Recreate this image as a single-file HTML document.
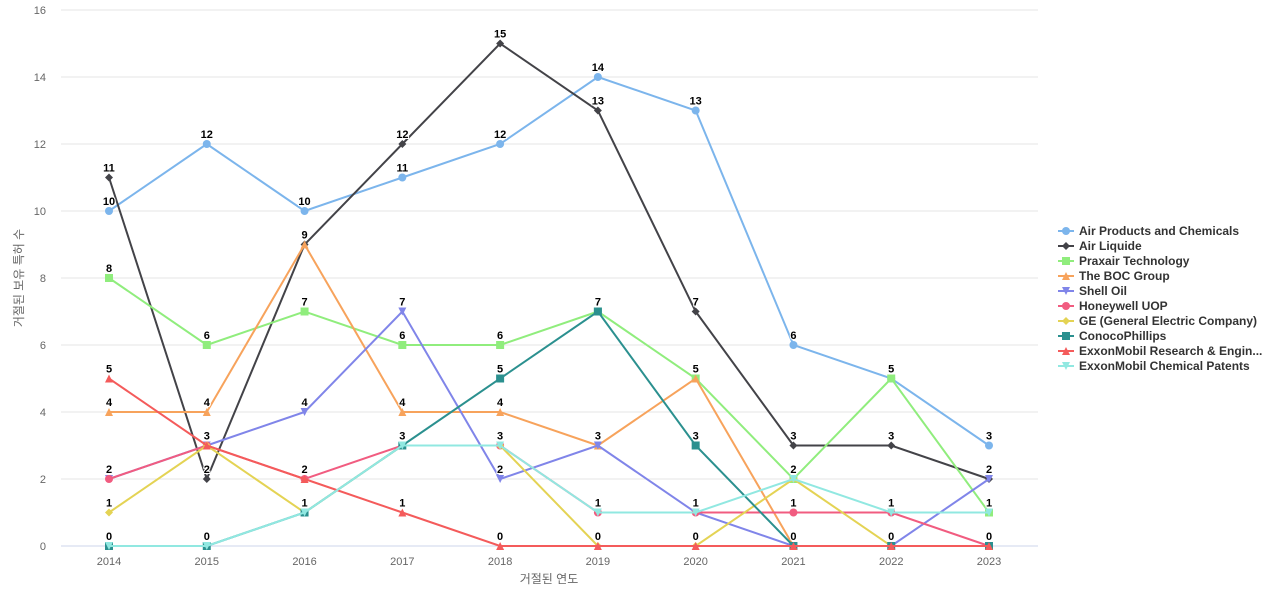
<!DOCTYPE html>
<html><head><meta charset="utf-8"><style>
body{margin:0;background:#fff;font-family:"Liberation Sans","Noto Sans CJK KR",sans-serif}
svg text{font-family:"Liberation Sans","Noto Sans CJK KR",sans-serif}
</style></head><body>
<svg id="chart" width="1280" height="600" xmlns="http://www.w3.org/2000/svg"></svg>
<script>
const years = [2014,2015,2016,2017,2018,2019,2020,2021,2022,2023];
const yTicks = [0,2,4,6,8,10,12,14,16];
const seriesNames = ["Air Products and Chemicals","Air Liquide","Praxair Technology","The BOC Group","Shell Oil","Honeywell UOP","GE (General Electric Company)","ConocoPhillips","ExxonMobil Research & Engin...","ExxonMobil Chemical Patents"];
const airProducts = [10,12,10,11,12,14,13,6,5,3];
const airLiquide = [11,2,9,12,15,13,7,3,3,2];
const praxair = [8,6,7,6,6,7,5,2,5,1];
const boc = [4,4,9,4,4,3,5,0,0,0];
const shell = [2,3,4,7,2,3,1,0,0,2];
const honeywell = [2,3,2,3,3,1,1,1,1,0];
const ge = [1,3,1,3,3,0,0,2,0,0];
const conoco = [0,0,1,3,5,7,3,0,0,0];
const exxonResearch = [5,3,2,1,0,0,0,0,0,0];
const exxonChemical = [0,0,1,3,3,1,1,2,1,1];
const seriesValues = [airProducts,airLiquide,praxair,boc,shell,honeywell,ge,conoco,exxonResearch,exxonChemical];
const colors = ["#7cb5ec","#434348","#90ed7d","#f7a35c","#8085e9","#f15c80","#e4d354","#2b908f","#f45b5b","#91e8e1"];
const markers = ["circle","diamond","square","triangle","tri-down","circle","diamond","square","triangle","tri-down"];

const NS="http://www.w3.org/2000/svg";
const svg=document.getElementById('chart');
const L=61,R=1038,T=10,B=546,yMax=16;
const x=i=>109+i*(989-109)/(years.length-1);
const y=v=>B-(v/yMax)*(B-T);
function mk(tag,attrs,parent){const e=document.createElementNS(NS,tag);for(const k in attrs)e.setAttribute(k,attrs[k]);(parent||svg).appendChild(e);return e;}

const grid=mk('g',{});


yTicks.forEach(t=>{
  const ln=mk('line',{x1:L,x2:R,y1:y(t),y2:y(t),stroke:t===0?'#ccd6eb':'#e6e6e6','stroke-width':1},grid);
  
  
  const tx=mk('text',{x:46,y:y(t)+4,'text-anchor':'end','font-size':11,fill:'#666'});
  tx.textContent=t;
  
  
});
years.forEach((yr,i)=>{
  const tx=mk('text',{x:x(i),y:565,'text-anchor':'middle','font-size':11,fill:'#666'});
  tx.textContent=yr;
  
  
});
const xt=mk('text',{x:549,y:583,'text-anchor':'middle','font-size':12,fill:'#666'});
xt.textContent='거절된 연도';


const yt=mk('text',{x:23,y:278,'text-anchor':'middle','font-size':12,fill:'#666',transform:'rotate(-90 23 278)'});
yt.textContent='거절된 보유 특허 수';



function marker(type,cx,cy,c,parent,s){
  s=s||4;
  if(type==='circle')return mk('circle',{cx,cy,r:s,fill:c},parent);
  if(type==='square')return mk('rect',{x:cx-s,y:cy-s,width:2*s,height:2*s,fill:c},parent);
  if(type==='diamond')return mk('path',{d:`M${cx} ${cy-s}L${cx+s} ${cy}L${cx} ${cy+s}L${cx-s} ${cy}Z`,fill:c},parent);
  if(type==='triangle')return mk('path',{d:`M${cx} ${cy-s}L${cx+s} ${cy+s}L${cx-s} ${cy+s}Z`,fill:c},parent);
  return mk('path',{d:`M${cx-s} ${cy-s}L${cx+s} ${cy-s}L${cx} ${cy+s}Z`,fill:c},parent);
}

const labels=mk('g',{});


seriesValues.forEach((vals,si)=>{
  const g=mk('g',{});
  
  
  const p=mk('path',{d:vals.map((v,i)=>(i?'L':'M')+x(i)+' '+y(v)).join(''),fill:'none',stroke:colors[si],'stroke-width':2},g);
  
  
  vals.forEach((v,i)=>{
    const m=marker(markers[si],x(i),y(v),colors[si],g);
    
    
    const t=mk('text',{x:x(i),y:y(v)-6,'text-anchor':'middle','font-size':11,'font-weight':'bold',fill:'#000',stroke:'#fff','stroke-width':2,'paint-order':'stroke'},labels);
    t.textContent=v;
    
    
  });
});
svg.appendChild(labels);

const lg=mk('g',{});


seriesNames.forEach((n,i)=>{
  const g=mk('g',{},lg);
  
  
  const cy=231+i*15;
  mk('line',{x1:1058,x2:1074,y1:cy,y2:cy,stroke:colors[i],'stroke-width':2},g);
  marker(markers[i],1066,cy,colors[i],g,4);
  const t=mk('text',{x:1079,y:cy+4,'font-size':12,'font-weight':'bold',fill:'#333'},g);
  t.textContent=n;
});
</script>
</body></html>
